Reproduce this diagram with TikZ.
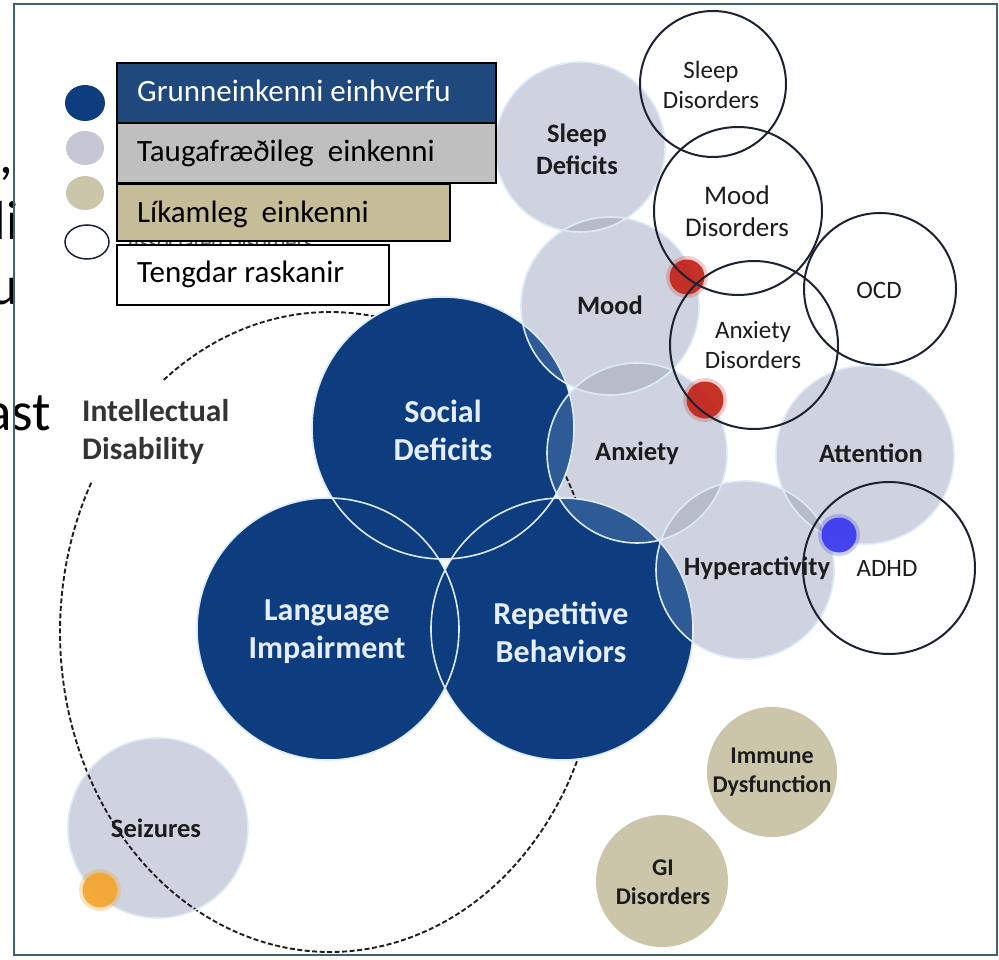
\documentclass[tikz,border=0pt]{standalone}
\usepackage{fontspec}
\setmainfont{Carlito}
\definecolor{coreblue}{HTML}{0D3C7F}
\definecolor{lensblue}{HTML}{2E5B95}
\definecolor{neurogray}{HTML}{CFD3DF}
\definecolor{lensgray}{HTML}{B8BCC9}
\definecolor{phystan}{HTML}{CBC5A9}
\definecolor{boxblue}{HTML}{1F497D}
\definecolor{boxgray}{HTML}{BFBFBF}
\definecolor{boxtan}{HTML}{C4BD97}
\definecolor{rimwhite}{HTML}{DCEBFA}
\definecolor{inktext}{HTML}{1C1C1C}
\definecolor{paletext}{HTML}{E4EEFF}
\definecolor{ringline}{HTML}{1B2230}
\definecolor{framecol}{HTML}{3E6470}
\definecolor{dotred}{HTML}{C3241B}
\definecolor{dotblue}{HTML}{3A3AF0}
\definecolor{dotorange}{HTML}{F4A630}
% overlap of two discs: clip to the first, fill the second
\newcommand\lensfill[5]{\begin{scope}\clip (#1) circle (#2);\fill[#5] (#3) circle (#4);\end{scope}}
\begin{document}
\begin{tikzpicture}[x=1pt,y=-1pt,
  lbl/.style={align=center, inner sep=0pt},
  bluelbl/.style={lbl, text=paletext, font=\bfseries\fontsize{32}{38}\selectfont},
  graylbl/.style={lbl, text=inktext, font=\bfseries\fontsize{26.5}{32}\selectfont},
  openlbl/.style={lbl, text=inktext, font=\fontsize{25}{30}\selectfont},
  tanlbl/.style={lbl, text=inktext, font=\bfseries\fontsize{24}{29}\selectfont},
  legtxt/.style={inner sep=0pt, anchor=base west, font=\fontsize{31}{36}\selectfont},
  legbox/.style={draw=black, line width=1.5pt},
  rim/.style={draw=rimwhite, line width=1.6pt},
  ring/.style={draw=ringline, line width=2pt},
  dashline/.style={draw=black!88, line width=1.9pt, dash pattern=on 5pt off 2.5pt},
  slidetxt/.style={inner sep=0pt, anchor=base east, font=\fontsize{55}{60}\selectfont}
]
\useasboundingbox (0,0) rectangle (999,960);
\fill[white] (0,0) rectangle (999,960);

% text of the slide underneath
\node[slidetxt] (s1) at (13,174) {,};
\node[slidetxt] (s2) at (19,240) {li};
\node[slidetxt] (s3) at (19,305) {u};
\node[slidetxt] (s4) at (51,430) {ast};

% circle centres
\coordinate (sdef) at (580,147);
\coordinate (mood) at (610,306);
\coordinate (anx)  at (637,453);
\coordinate (att)  at (865,455);
\coordinate (hyp)  at (745,570);
\coordinate (seiz) at (158,828);
\coordinate (soc)  at (443,428);
\coordinate (lang) at (328,629);
\coordinate (rep)  at (562,629);
\coordinate (sdis) at (713,84);
\coordinate (mdis) at (738,211);
\coordinate (ocd)  at (880,289);
\coordinate (adis) at (754,345);
\coordinate (adhd) at (889,568);
\coordinate (imm)  at (772,772);
\coordinate (gi)   at (662,881);
\coordinate (red1) at (687,277);
\coordinate (red2) at (705,400);
\coordinate (bdot) at (839,535);
\coordinate (odot) at (100,890);

% neurological features
\fill[neurogray] (sdef) circle (85);
\fill[neurogray] (mood) circle (89);
\fill[neurogray] (anx) circle (90);
\fill[neurogray] (att) circle (89);
\fill[neurogray] (hyp) circle (89);
\fill[neurogray] (seiz) circle (90);
\lensfill{sdef}{85}{mood}{89}{lensgray}
\lensfill{mood}{89}{anx}{90}{lensgray}
\lensfill{anx}{90}{hyp}{89}{lensgray}
\lensfill{hyp}{89}{att}{89}{lensgray}

% physical features
\fill[phystan] (imm) circle (65);
\fill[phystan] (gi) circle (66);

% intellectual disability boundary
\draw[dashline] plot[smooth, domain=232:568, samples=120, variable=\t]
  ({330+270*cos(\t)},{632+320*sin(\t)});

% core features
\fill[coreblue] (soc) circle (131);
\fill[coreblue] (lang) circle (131);
\fill[coreblue] (rep) circle (131);
\lensfill{soc}{131}{mood}{89}{lensblue}
\lensfill{soc}{131}{anx}{90}{lensblue}
\lensfill{rep}{131}{anx}{90}{lensblue}
\lensfill{rep}{131}{hyp}{89}{lensblue}

% white rims
\draw[rim] (sdef) circle (85);
\draw[rim] (mood) circle (89);
\draw[rim] (anx) circle (90);
\draw[rim] (att) circle (89);
\draw[rim] (hyp) circle (89);
\draw[rim] (seiz) circle (90);
\draw[rim] (soc) circle (131);
\draw[rim] (lang) circle (131);
\draw[rim] (rep) circle (131);

% marker dots
\fill[dotred, opacity=.22] (red1) circle (21);
\fill[dotred, opacity=.92] (red1) circle (17.5);
\fill[dotred, opacity=.22] (red2) circle (22);
\fill[dotred, opacity=.92] (red2) circle (18.5);
\fill[dotblue, opacity=.25] (bdot) circle (21);
\fill[dotblue, opacity=.92] (bdot) circle (17.5);
\fill[dotorange, opacity=.3] (odot) circle (21);
\fill[dotorange, opacity=.92] (odot) circle (17.5);

% associated disorders
\draw[ring] (sdis) circle (73);
\draw[ring] (mdis) circle (84);
\draw[ring] (ocd) circle (76);
\draw[ring] (adis) circle (84);
\draw[ring] (adhd) circle (86);

% labels
\node[bluelbl] (tsoc)  at (443,430) {Social\\Deficits};
\node[bluelbl] (tlang) at (327,632) {Language\\Impairment};
\node[bluelbl] (trep)  at (561,632) {Repetitive\\Behaviors};
\node[graylbl] (tsdef) at (577,149) {Sleep\\Deficits};
\node[graylbl] (tmood) at (610,305) {Mood};
\node[graylbl] (tanx)  at (637,453) {Anxiety};
\node[graylbl] (tatt)  at (871,453) {Attention};
\node[graylbl] (thyp)  at (757,568) {Hyperactivity};
\node[graylbl] (tseiz) at (156,828) {Seizures};
\node[openlbl] (tsdis) at (711,85) {Sleep\\Disorders};
\node[openlbl, font=\fontsize{27}{32}\selectfont] (tmdis) at (737,211) {Mood\\Disorders};
\node[openlbl] (tadis) at (753,345) {Anxiety\\Disorders};
\node[openlbl] (tocd)  at (879,290) {OCD};
\node[openlbl] (tadhd) at (887,568) {ADHD};
\node[tanlbl] (timm) at (772,772) {Immune\\Dysfunction};
\node[tanlbl] (tgi)  at (663,882) {GI\\Disorders};
\node[lbl, align=left, anchor=west, text=black!80, font=\bfseries\fontsize{31.5}{38}\selectfont]
  (tint) at (82,432) {Intellectual\\Disability};

% legend
\fill[coreblue] (85,103) ellipse [x radius=20, y radius=18];
\fill[neurogray!95!black] (85,148) ellipse [x radius=19, y radius=17];
\fill[phystan] (85,193) ellipse [x radius=19, y radius=17];
\draw[ringline, line width=1.5pt] (87,242) ellipse [x radius=22, y radius=17];
\node[inner sep=0pt, anchor=base west, text=black!70, font=\fontsize{22}{26}\selectfont]
  (lghid) at (127,250) {Associated Disorders};
\path[legbox, fill=boxblue] (117,63) rectangle (496,123);
\path[legbox, fill=boxgray] (117,123) rectangle (496,183);
\path[legbox, fill=boxtan] (117,184) rectangle (450,241);
\path[legbox, fill=white] (117,245) rectangle (389,305);
\node[legtxt, text=white] (lg1) at (137,102) {Grunneinkenni einhverfu};
\node[legtxt] (lg2) at (137,162) {Taugafræðileg\ \ einkenni};
\node[legtxt] (lg3) at (137,223) {Líkamleg\ \ einkenni};
\node[legtxt] (lg4) at (137,283) {Tengdar raskanir};

% frame
\draw[framecol, line width=2pt] (14,4) rectangle (997,955);
\end{tikzpicture}
\end{document}
